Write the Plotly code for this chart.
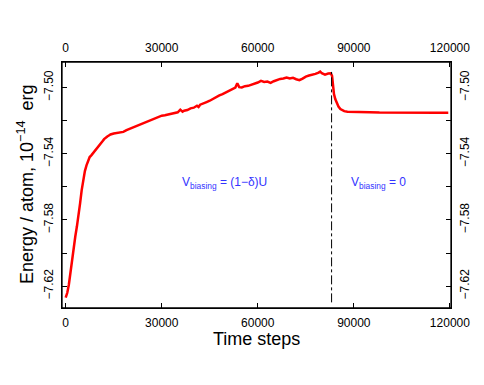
import plotly.graph_objects as go

# time step / energy samples
time_steps = [0, 500, 1000, 1500, 2000, 2500, 3000, 3500, 4000, 4500, 5000, 5500, 6000, 6500, 7000, 7500,
              8000, 8500, 9000, 9500, 10000, 10500, 11000, 11500, 12000, 12500, 13000, 13500, 14000, 15000,
              16000, 17000, 18000, 19000, 20000, 21000, 22000, 23000, 24000, 25000, 26000, 27000, 28000,
              29000, 30000, 31000, 32000, 33000, 34000, 35000, 35800, 36500, 37000, 38000, 39000, 40000,
              41000, 41500, 42000, 43000, 44000, 45000, 46000, 47000, 48000, 49000, 50000, 51000, 52000,
              53000, 53600, 54200, 55000, 56000, 57000, 58000, 59000, 60000, 61000, 62000, 63000, 64000,
              65000, 66000, 67000, 68000, 69000, 70000, 71000, 72000, 73000, 74000, 75000, 76000, 77000,
              78000, 79000, 79500, 80000, 81000, 82000, 82800, 83200, 83500, 83800, 84200, 84700, 85200,
              85800, 86400, 87000, 88000, 90000, 92000, 95000, 98000, 101000, 104000, 107000, 110000,
              113000, 116000, 119500]
energy = [-7.6270, -7.6240, -7.6190, -7.6110, -7.6040, -7.5970, -7.5900, -7.5840, -7.5780, -7.5700,
          -7.5620, -7.5560, -7.5505, -7.5470, -7.5440, -7.5420, -7.5410, -7.5398, -7.5392, -7.5378,
          -7.5366, -7.5355, -7.5340, -7.5325, -7.5312, -7.5302, -7.5296, -7.5290, -7.5284, -7.5278,
          -7.5276, -7.5270, -7.5268, -7.5258, -7.5250, -7.5240, -7.5230, -7.5222, -7.5214, -7.5206,
          -7.5198, -7.5192, -7.5182, -7.5176, -7.5170, -7.5168, -7.5164, -7.5160, -7.5156, -7.5150,
          -7.5134, -7.5146, -7.5140, -7.5136, -7.5126, -7.5122, -7.5110, -7.5118, -7.5104, -7.5098,
          -7.5088, -7.5080, -7.5068, -7.5060, -7.5048, -7.5040, -7.5030, -7.5024, -7.5014, -7.5000,
          -7.4974, -7.4998, -7.5000, -7.4992, -7.4990, -7.4984, -7.4980, -7.4970, -7.4960, -7.4966,
          -7.4964, -7.4972, -7.4962, -7.4954, -7.4948, -7.4946, -7.4940, -7.4946, -7.4942, -7.4950,
          -7.4956, -7.4946, -7.4934, -7.4928, -7.4924, -7.4918, -7.4910, -7.4904, -7.4914, -7.4922,
          -7.4916, -7.4914, -7.4930, -7.5000, -7.5040, -7.5070, -7.5096, -7.5115, -7.5130, -7.5138,
          -7.5143, -7.5146, -7.5146, -7.5147, -7.5149, -7.5151, -7.5152, -7.5153, -7.5154, -7.5154,
          -7.5153, -7.5153, -7.5152]

bias_off_step = 83050
x_ticks = [0, 30000, 60000, 90000, 120000]
x_ticktext = ['0', '30000', '60000', '90000', '120000']
y_ticks = [-7.50, -7.52, -7.54, -7.56, -7.58, -7.60, -7.62]
y_ticktext = ['\u22127.50', '', '\u22127.54', '', '\u22127.58', '', '\u22127.62']

font_family = 'Liberation Sans, Arial, sans-serif'
blue = '#3333ff'
x_range = [-1150, 120350]
y_range = [-7.6332, -7.4846]

fig = go.Figure()
fig.add_trace(go.Scatter(x=time_steps, y=energy, mode='lines',
                         line=dict(color='#ff0000', width=2.5), showlegend=False))
# empty trace so the top / right axes get drawn
fig.add_trace(go.Scatter(x=[None], y=[None], xaxis='x2', yaxis='y2', mode='lines',
                         showlegend=False, hoverinfo='skip'))

axis_common = dict(showgrid=False, zeroline=False, showline=True, linecolor='black', linewidth=1,
                   ticks='inside', ticklen=5, tickcolor='black',
                   tickfont=dict(family=font_family, size=12, color='black'))

# page body adds an 8px offset, so the figure is 8px smaller than the window
fig.update_layout(
    width=476, height=377,
    margin=dict(l=54, r=33, t=54, b=77, autoexpand=False),
    plot_bgcolor='white', paper_bgcolor='white',
    font=dict(family=font_family, color='black'),
    xaxis=dict(range=x_range, tickvals=x_ticks, ticktext=x_ticktext, ticklabelstandoff=4, **axis_common),
    xaxis2=dict(range=x_range, tickvals=x_ticks, ticktext=x_ticktext, overlaying='x', side='top',
                anchor='y', ticklabelstandoff=4, **axis_common),
    yaxis=dict(range=y_range, tickvals=y_ticks, ticktext=y_ticktext, tickangle=-90,
               ticklabelstandoff=3, **axis_common),
    yaxis2=dict(range=y_range, tickvals=y_ticks, ticktext=y_ticktext, tickangle=-90,
                overlaying='y', side='right', anchor='x', ticklabelstandoff=3, **axis_common),
)

# plot frame
fig.add_shape(type='rect', xref='paper', yref='paper', x0=0, x1=1, y0=0, y1=1,
              line=dict(color='black', width=1.3), layer='above')

fig.add_shape(type='line', xref='x', yref='y', x0=bias_off_step, x1=bias_off_step,
              y0=-7.6298, y1=-7.4906, line=dict(color='black', width=1, dash='dashdot'))

fig.add_annotation(x=49620, y=-7.5577, xref='x', yref='y', showarrow=False,
                   text='V<sub>biasing</sub> = (1\u2212\u03b4)U', font=dict(size=12, color=blue))
fig.add_annotation(x=97600, y=-7.5577, xref='x', yref='y', showarrow=False,
                   text='V<sub>biasing</sub> = 0', font=dict(size=12, color=blue))

# axis titles
fig.add_annotation(x=0.5, y=-0.128, xref='paper', yref='paper', showarrow=False,
                   text='Time steps', font=dict(size=18), xanchor='center', yanchor='middle')
fig.add_annotation(x=-0.095, y=0.5, xref='paper', yref='paper', showarrow=False, textangle=-90,
                   text='Energy / atom, 10<sup>\u221214</sup>  erg', font=dict(size=18),
                   xanchor='center', yanchor='middle')

fig.write_html("out.html")
